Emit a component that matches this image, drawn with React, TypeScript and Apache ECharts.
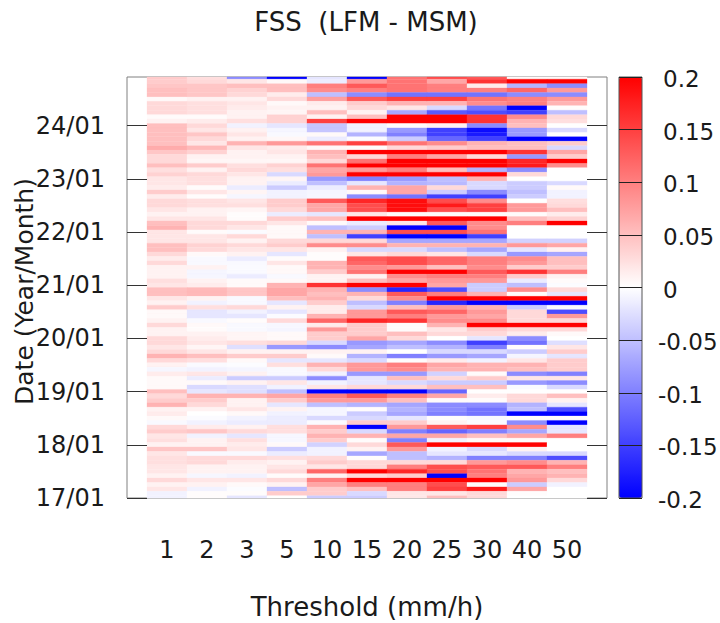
import React, { useEffect, useRef } from "react";
import * as echarts from "echarts";

const thresholds = ["1", "2", "3", "5", "10", "15", "20", "25", "30", "40", "50"];
const yearTickLabels = ["17/01", "18/01", "19/01", "20/01", "21/01", "22/01", "23/01", "24/01"];
const monthsPerYear = 12;

// Values in hundredths of FSS, newest month (24/12) first down to 17/01.
const t1 = [4,4,4.5,5,5,.5,3,3,3,.3,1,5,5,5,5,5,6.5,4.5,3,3,5,2.5,3.5,2,2,1.5,4,1.5,3,3,2,
  1,2,5,6,2,2,2,5,5,3,1.5,3,1,1,1,2.5,2,5,5,2,1,4,.5,.5,1,3,1,1,3,3,2,3,
  6,3,1,-.7,1.5,.5,.5,.5,5,3,4,6,1,1.5,.5,-.5,3,4,2,2.5,1,4.5,2,2.5,2.5,2,2,1,3,1,2,-1,-1];
const t2 = [2.5,3,4.5,4.5,4.5,1,2.5,2.5,2.5,.3,1.5,3,2,4.5,3,2,5.5,3.5,1,.7,4,1,3,2.5,2.5,.3,2,.2,2.5,2.5,1,
  1,2,3,3,.3,2,2,3.5,3,.5,-.5,-.5,1,-.7,-.7,1,1.5,5.5,5.5,1,-1,2.5,-2,-2,-.5,.5,.3,1,1.5,2,.8,2,
  5,2.5,-.4,-1,2,-1.5,.5,-3,-2,6,4,3,1,0,-.3,-1,1.5,4.5,-1,1,1,4.5,-.5,3,3,1,1,-.7,2,1,-1,.2,.2];
const t3 = [-9,2,5,3.5,3,1,2,1.5,1,1,2.5,-1,1,2,1,6,2,1,1,.7,2.5,3,2,1,1,-1.5,.8,-.7,2,2.5,.8,
  .2,.3,3,2,-.3,3,1,3,2,1,-1.5,-.5,-.4,-.4,-1.5,.4,.4,4.5,4.5,-.5,-.5,3,-1,-2,.2,-.5,-.5,.8,.8,2.5,-2.5,1,
  4,.5,-.2,-.8,1,-4,1,-2.5,-2.5,6,1,1,2,.5,-1,-1.5,1,3,-2,2.5,1.5,2,-.5,3,1.5,1,1,-1,2,.5,-.2,.2,-2];
const t5 = [-20,.5,5,5,1.5,3,.5,1,.8,3.5,3.5,-2,-.7,-.5,.6,8,1.5,2,1,.6,3.5,2.5,-3,.8,-1.5,-4,-1,-1,4,4,3,
  -1.5,4,2,.5,.5,.5,3,4,2,-2,.3,2,.5,.5,-.5,.5,6,7,7,5,-2,1,-2,-.3,3,-.6,-.8,.5,.5,3,-8,1,
  4,-2,2.5,-.5,-.5,-4,2,-1,-5,7,4,-2,1,-1,-1.5,-1.5,2.5,2.5,-.6,-.6,.5,-4,-1.5,2.5,1,2,3,.3,3,1,-5,4,0];
const t10 = [-2,-1.5,10,9,-5,7.5,1.5,1,5,1,15,-4.5,-4.5,.5,-1.5,11,.5,6,5,3,11,7,8,-8,-5,-1.5,-.8,-.7,13,7,7,
  -2,5,.5,-5,6,-5,3,9,1,.2,.2,6,6,4,1,1,16,6,5,6,4,1.5,1.5,6,12,1.5,8,4,4,-3,-9,1,
  .4,-2,6,3,-1,-9,-1,2,-20,10,8,-5,-.7,-.7,-3,-.3,6,4,6,4,-3.5,-1,-1,3,4,2,12,1,10,7,4,4,-4];
const t15 = [-20,8,13,10,-9,13,4,3,1,5,20,-1,-1,-6,-.3,15,.3,20,3,11,20,8,20,-10,-2,6,.5,-9,17,14,14,
  2,20,-1.5,-4,6,-15,3,9,-3,2,13,12,9,11,1,5,20,-9,6,3,-5,-3,8,8,17,4,4,4,7,-8,-7,1,
  -6,-3,8,8,-8,-2,-2,3,-20,13,8,-6,.2,-4,-3,4,-20,-3,6,.3,3,1,-7,.2,3,3,20,3,20,10,5,-3,-4];
const t20 = [11,11,11,11,-11,15,6,2,-7,20,20,.3,-8,-10,-4,11,3,20,10,20,20,10,20,-8,-6,7,7,-11,19,19,19,
  .5,20,2,-20,14,-20,-7,6,-3,3,14,14,8,20,9,7,20,-17,13,9,-10,5,13,10,16,.3,.3,5,3,-7,-5,0,
  -10,.3,10,9,-8,5,-3,3,-20,10,5,-7,-6,-7,-2,4,8,-10,7,-10,13,8,-5,-5,3,10,17,4,20,10,10,2,2];
const t25 = [14,7,10,10,-11,15,6,-3,-13,20,20,1,-15,-15,-12,9,4,20,7,20,20,5,20,-5,-5.5,3,-4,-15,14,18,14,
  .5,20,13,-20,14,-20,-7,6,-5,2,12,12,5,20,10,8,7,-14,10,20,-17,8,12,8,9,6,2,3,0,-9,-6,-3,
  -8,1.5,7,6,-3.5,3,-4,5,-12,7,.3,-9,-9,-10,.2,1,13,-12,7,-1,20,-1,-2,-6,3,14,14,-20,20,14,15,2,5];
const t30 = [13,16,1.5,10,-11,11,9,-11,-14,16,16,-9,-19,-18,-15,6,5,20,3,20,20,-6,20,6,-3,-3,-9,-15,9,15,15,
  .3,20,9,9,11,-15,-7,6,-7,-3,10,10,9,13,10,8,-4,-4,6,20,-20,6,8,7,9,20,4,3,-2,-15,-10,-3,
  -7,-1,6,6,.3,4,-4,5,.1,1.5,.3,-9,-11,-11,-.5,-.3,15,-10,5,.5,20,-3,-2,-10,8,13,11,10,20,.3,18,3,3];
const t40 = [.5,20,-6,12,-9,10,10,-20,-15,9,6,5,-8,-8,-20,5,5,16,-8,17,18,-9,3,0,-4,-4,-5,-4,0,8,8,
  .3,5,10,0,0,0,-3.5,8,-2,-8,9,8,4,16,4,-1.5,-5,9,.3,20,-20,-4,3,3,3,20,3,1.5,-9,-11,.2,-4,
  -.8,2,6,5,-9,2,-8,-.4,.1,3,3,-6,-5,-20,.2,-9,9,-7,7,.4,20,1,-3,-10,9,13,6,7,8,-4,7,.2,0];
const t50 = [.5,20,-9,8,-9,8,6,.2,-5,3,2.5,.1,-3,.1,-20,4,-3,7,4,20,9,0,0,0,-3,.5,-1,-1,2.5,3,5,
  1.5,3.5,20,0,0,0,-3.5,7,1,-7,5,5,4,10,1,.3,-.2,3,-2,20,-20,-.5,-14,8,3,20,3,.5,0,-2.5,2,4,
  -2,4,4,4,-10,2,-9,-3,.1,5,1,-2,-14,-20,.2,-20,-2,-2,10,0,0,0,-3,-14,6,10,5,6,3,-1,0,0,0];

const columns = [t1, t2, t3, t5, t10, t15, t20, t25, t30, t40, t50];
const FONT = "DejaVu Sans";
const INK = "#1a1a1a";

const cells: number[][] = [];
columns.forEach((col, c) => {
  col.forEach((v, i) => {
    cells.push([c + 1, col.length - 1 - i, v / 100]);
  });
});

const renderCell = (params: any, api: any) => {
  const x = api.value(0);
  const y = api.value(1);
  const a = api.coord([x - 0.5, y + 0.5]);
  const b = api.coord([x + 0.5, y - 0.5]);
  const cs = params.coordSys;
  const shape = echarts.graphic.clipRectByRect(
    { x: a[0], y: a[1], width: b[0] - a[0], height: b[1] - a[1] },
    { x: cs.x, y: cs.y, width: cs.width, height: cs.height }
  );
  if (!shape) return null;
  const fill = api.visual("color");
  return { type: "rect", shape, style: { fill, stroke: fill, lineWidth: 0.3 } };
};

export default function App() {
  const ref = useRef<HTMLDivElement>(null);
  useEffect(() => {
    document.body.style.margin = "0";
    const chart = echarts.init(ref.current!, null, { renderer: "svg" });
    const yTicks = yearTickLabels.map((_, i) => i * monthsPerYear);
    chart.setOption({
      animation: false,
      backgroundColor: "#ffffff",
      textStyle: { fontFamily: FONT },
      title: {
        text: "FSS  (LFM - MSM)",
        left: 361,
        top: 4,
        textAlign: "center",
        textStyle: { fontFamily: FONT, fontSize: 26, fontWeight: "normal", color: INK },
      },
      grid: [
        { left: 127, top: 77, width: 480, height: 421, outerBoundsMode: "none", show: true, borderColor: "#808080", borderWidth: 1 },
        { left: 619, top: 77, width: 23, height: 421, outerBoundsMode: "none", show: true, borderColor: "#555", borderWidth: 1, backgroundColor: "transparent", z: 10 },
      ],
      visualMap: {
        type: "continuous",
        seriesIndex: 0,
        dimension: 2,
        min: -0.2,
        max: 0.2,
        calculable: false,
        hoverLink: false,
        left: 619,
        top: 77,
        padding: 0,
        itemWidth: 23,
        itemHeight: 421,
        inRange: { color: ["#0000ff", "#ffffff", "#ff0000"] },
      },
      xAxis: [
        {
          gridIndex: 0,
          type: "value",
          min: 0,
          max: 12,
          interval: 1,
          name: "Threshold (mm/h)",
          nameLocation: "middle",
          nameGap: 96,
          nameMoveOverlap: false,
          nameTextStyle: { fontFamily: FONT, fontSize: 26, color: INK },
          axisLine: { show: false, onZero: false },
          axisTick: { show: false },
          splitLine: { show: false },
          axisLabel: {
            customValues: thresholds.map((_, i) => i + 1),
            formatter: (v: number) => thresholds[v - 1] ?? "",
            margin: 40,
            fontFamily: FONT,
            fontSize: 24,
            color: INK,
          },
        },
        { gridIndex: 1, type: "value", min: 0, max: 1, show: false, axisLine: { onZero: false } },
      ],
      yAxis: [
        {
          gridIndex: 0,
          type: "value",
          position: "left",
          min: 0,
          max: 95,
          interval: monthsPerYear,
          z: 5,
          name: "Date (Year/Month)",
          nameLocation: "middle",
          nameGap: 90,
          nameMoveOverlap: false,
          nameTextStyle: { fontFamily: FONT, fontSize: 25, color: INK, padding: [0, 8, 0, 0] },
          axisLine: { show: false, onZero: false },
          axisTick: { show: true, inside: true, length: 20, customValues: yTicks, lineStyle: { color: "#333" } },
          splitLine: { show: false },
          axisLabel: {
            customValues: yTicks,
            formatter: (v: number) => yearTickLabels[v / monthsPerYear] ?? "",
            margin: 22,
            padding: [4, 0, 0, 0],
            fontFamily: FONT,
            fontSize: 24,
            color: INK,
          },
        },
        {
          gridIndex: 0,
          type: "value",
          position: "right",
          min: 0,
          max: 95,
          interval: monthsPerYear,
          z: 5,
          axisLine: { show: false, onZero: false },
          axisTick: { show: true, inside: true, length: 20, customValues: yTicks, lineStyle: { color: "#333" } },
          axisLabel: { show: false },
          splitLine: { show: false },
        },
        {
          gridIndex: 1,
          type: "value",
          position: "right",
          min: -0.2,
          max: 0.2,
          interval: 0.05,
          z: 10,
          axisLine: { show: false, onZero: false },
          axisTick: { show: true, inside: true, length: 23, lineStyle: { color: "#222" } },
          splitLine: { show: false },
          axisLabel: {
            margin: 16,
            padding: [4, 0, 0, 0],
            fontFamily: FONT,
            fontSize: 23,
            color: INK,
            formatter: (v: number) => (v < 0 ? String(v) : `{p|${v}}`),
            rich: { p: { padding: [0, 0, 0, 5], fontFamily: FONT, fontSize: 23, color: INK } },
          },
        },
      ],
      series: [
        {
          type: "custom",
          xAxisIndex: 0,
          yAxisIndex: 0,
          renderItem: renderCell,
          data: cells,
          encode: { x: 0, y: 1 },
          z: 4,
          silent: true,
        },
      ],
    });
    return () => chart.dispose();
  }, []);
  return <div ref={ref} style={{ width: 720, height: 623 }} />;
}
